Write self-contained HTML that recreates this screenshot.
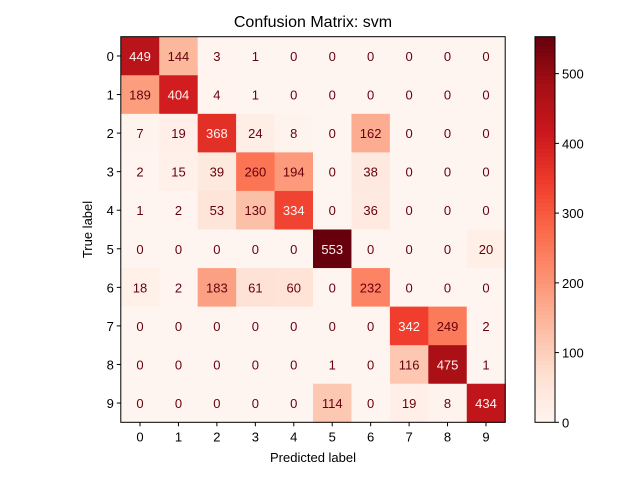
<!DOCTYPE html>
<html><head><meta charset="utf-8"><style>
body{margin:0;background:#fff}
text{font-family:"Liberation Sans","DejaVu Sans",sans-serif;}
</style></head><body>
<svg id="chart" width="640" height="480" xmlns="http://www.w3.org/2000/svg"></svg>
<script>
const labels = ["0","1","2","3","4","5","6","7","8","9"];
const row0 = [449,144,3,1,0,0,0,0,0,0];
const row1 = [189,404,4,1,0,0,0,0,0,0];
const row2 = [7,19,368,24,8,0,162,0,0,0];
const row3 = [2,15,39,260,194,0,38,0,0,0];
const row4 = [1,2,53,130,334,0,36,0,0,0];
const row5 = [0,0,0,0,0,553,0,0,0,20];
const row6 = [18,2,183,61,60,0,232,0,0,0];
const row7 = [0,0,0,0,0,0,0,342,249,2];
const row8 = [0,0,0,0,0,1,0,116,475,1];
const row9 = [0,0,0,0,0,114,0,19,8,434];
const matrix = [row0,row1,row2,row3,row4,row5,row6,row7,row8,row9];
const cbarTicks = [0,100,200,300,400,500];

const svg = document.getElementById('chart');
const NS = 'http://www.w3.org/2000/svg';
const L=120.8, T=36.7, W=384.4, H=385.6, n=labels.length;
const cw=W/n, ch=H/n;
let vmin=Infinity, vmax=-Infinity;
matrix.forEach(r=>r.forEach(v=>{vmin=Math.min(vmin,v);vmax=Math.max(vmax,v);}));
const stops=["#fff5f0","#fee0d2","#fcbba1","#fc9272","#fb6a4a","#ef3b2c","#cb181d","#a50f15","#67000d"].map(h=>[parseInt(h.slice(1,3),16),parseInt(h.slice(3,5),16),parseInt(h.slice(5,7),16)]);
function cmap(t){t=Math.max(0,Math.min(1,t));const p=t*8,i=Math.min(7,Math.floor(p)),f=p-i;const a=stops[i],b=stops[i+1];return `rgb(${a.map((c,k)=>Math.round(c+(b[k]-c)*f)).join(',')})`;}
function xPos(j){return L+cw*(j+0.5);}
function yPos(i){return T+ch*(i+0.5);}
function mk(tag,attrs,txt){const e=document.createElementNS(NS,tag);for(const k in attrs)e.setAttribute(k,attrs[k]);if(txt!==undefined)e.textContent=txt;svg.appendChild(e);return e;}
const thr=(vmax+vmin)/2;
matrix.forEach((r,i)=>r.forEach((v,j)=>{
  const c=mk('rect',{x:L+cw*j,y:T+ch*i,width:cw+0.5,height:ch+0.5,fill:cmap((v-vmin)/(vmax-vmin))});
  
  
  const t=mk('text',{x:xPos(j),y:yPos(i)+5,'text-anchor':'middle','font-size':'13',fill:v>thr?'#fff5f0':'#67000d'},String(v));
  
  
}));
const frame=mk('rect',{x:L,y:T,width:W,height:H,fill:'none',stroke:'#000','stroke-width':1});


labels.forEach((lb,k)=>{
  mk('line',{x1:xPos(k),x2:xPos(k),y1:T+H,y2:T+H+4,stroke:'#000'});
  const xt=mk('text',{x:xPos(k),y:T+H+19,'text-anchor':'middle','font-size':'13'},lb);
  
  
  mk('line',{x1:L-4,x2:L,y1:yPos(k),y2:yPos(k),stroke:'#000'});
  const yt=mk('text',{x:L-7,y:yPos(k)+5,'text-anchor':'end','font-size':'13'},lb);
  
  
});
const title=mk('text',{x:L+W/2,y:27,'text-anchor':'middle','font-size':'16'},'Confusion Matrix: svm');


const xl=mk('text',{x:L+W/2,y:462,'text-anchor':'middle','font-size':'13'},'Predicted label');


const yl=mk('text',{x:92,y:T+H/2,'text-anchor':'middle','font-size':'13',transform:`rotate(-90 92 ${T+H/2})`},'True label');


// colorbar
const CL=535,CW=20,CT=T,CH=H,steps=100;
for(let s=0;s<steps;s++){
  const g=mk('rect',{x:CL,y:CT+CH*(1-(s+1)/steps),width:CW,height:CH/steps+0.6,fill:cmap((s+0.5)/steps)});
  
  
}
const cf=mk('rect',{x:CL,y:CT,width:CW,height:CH,fill:'none',stroke:'#000'});


cbarTicks.forEach(v=>{
  const y=CT+CH*(1-(v-vmin)/(vmax-vmin));
  mk('line',{x1:CL+CW,x2:CL+CW+4,y1:y,y2:y,stroke:'#000'});
  const t=mk('text',{x:CL+CW+7,y:y+5,'font-size':'13'},String(v));
  
  
});
</script>
</body></html>
